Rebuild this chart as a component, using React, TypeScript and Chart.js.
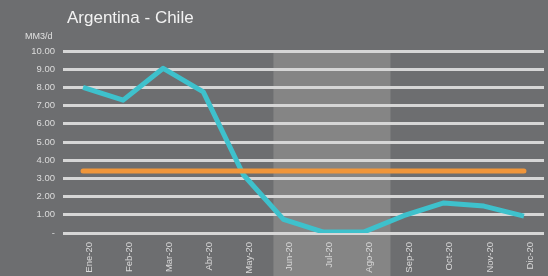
import React, { useEffect, useRef } from "react";
import { Chart, registerables } from "chart.js";

Chart.register(...registerables);

const categories = ["Ene-20", "Feb-20", "Mar-20", "Abr-20", "May-20", "Jun-20", "Jul-20", "Ago-20", "Sep-20", "Oct-20", "Nov-20", "Dic-20"];
const flowValues = [8.0, 7.3, 9.05, 7.75, 3.2, 0.75, 0.05, 0.05, 0.95, 1.65, 1.48, 0.93];
const referenceValues = [3.4, 3.4, 3.4, 3.4, 3.4, 3.4, 3.4, 3.4, 3.4, 3.4, 3.4, 3.4];
const yTicks = [0, 1, 2, 3, 4, 5, 6, 7, 8, 9, 10];
const bandStart = 4.75;
const bandEnd = 7.67;
const titleText = "Argentina - Chile";
const unitText = "MM3/d";

const BG = "#6d6e70";
const FONT = "'Liberation Sans', Arial, Helvetica, sans-serif";

export default function App() {
  const ref = useRef<HTMLCanvasElement>(null);
  useEffect(() => {
    document.body.style.margin = "0";
    const bgPlugin = {
      id: "bgband",
      beforeDraw(chart: any) {
        const { ctx, width, height, scales, chartArea } = chart;
        ctx.save();
        ctx.fillStyle = BG;
        ctx.fillRect(0, 0, width, height);
        const x0 = scales.x.getPixelForValue(bandStart);
        const x1 = scales.x.getPixelForValue(bandEnd);
        ctx.fillStyle = "#858585";
        ctx.fillRect(x0, chartArea.top + 1, x1 - x0, height - chartArea.top);
        ctx.fillStyle = "#f2f2f2";
        ctx.font = `17px ${FONT}`;
        ctx.textBaseline = "alphabetic";
        ctx.textAlign = "left";
        ctx.fillText(titleText, 67, 23);
        ctx.fillStyle = "#e0e0e0";
        ctx.font = `9px ${FONT}`;
        ctx.fillText(unitText, 25, 39);
        ctx.restore();
      },
    };
    const chart = new Chart(ref.current!, {
      type: "line",
      data: {
        labels: categories,
        datasets: [
          {
            data: referenceValues,
            borderColor: "#f0963a",
            borderWidth: 5,
            borderCapStyle: "round",
            pointRadius: 0,
            tension: 0,
          },
          {
            data: flowValues,
            borderColor: "#3ec1cc",
            borderWidth: 5,
            borderJoinStyle: "round",
            pointRadius: 0,
            tension: 0,
          },
        ],
      },
      options: {
        animation: false,
        responsive: false,
        layout: { padding: { top: 51, right: 4, left: 0, bottom: 0 } },
        plugins: { legend: { display: false }, tooltip: { enabled: false } },
        scales: {
          x: {
            offset: true,
            grid: { display: false },
            border: { display: false },
            afterFit: (s: any) => { s.height = 43; },
            ticks: {
              color: "#d9d9d9",
              font: { family: FONT, size: 9.5 },
              maxRotation: 90,
              minRotation: 90,
              labelOffset: 6,
              padding: 1,
              autoSkip: false,
            },
          },
          y: {
            min: 0,
            max: 10,
            afterFit: (s: any) => { s.width = 63; },
            afterBuildTicks: (s: any) => { s.ticks = yTicks.map((v) => ({ value: v })); },
            border: { display: false },
            grid: { color: "#d6d6d6", lineWidth: 3, drawTicks: false },
            ticks: {
              color: "#dcdcdc",
              font: { family: FONT, size: 9.5 },
              padding: 8,
              callback: (v: any) => (Number(v) === 0 ? "-" : Number(v).toFixed(2)),
            },
          },
        },
      },
      plugins: [bgPlugin],
    });
    return () => chart.destroy();
  }, []);
  return (
    <div style={{ width: 548, height: 276, background: BG }}>
      <canvas ref={ref} width={548} height={276} />
    </div>
  );
}
